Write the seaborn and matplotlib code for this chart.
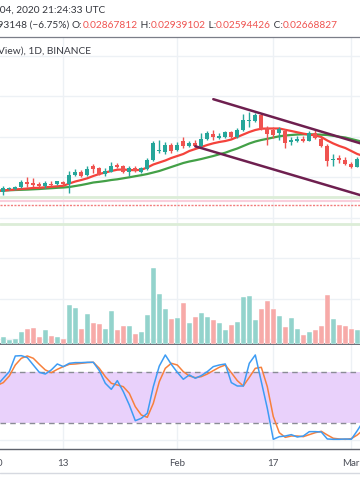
import numpy as np
import pandas as pd
import seaborn as sns
import matplotlib.pyplot as plt
import matplotlib.dates as mdates
from matplotlib.transforms import blended_transform_factory

# ETH/BTC daily candles (Binance)
candle_dates = pd.date_range('2020-01-03', '2020-03-02', freq='D')
opens = [0.0254, 0.02555, 0.02555, 0.02565, 0.0259, 0.02585, 0.0258, 0.0257, 0.025825, 0.0258,
         0.0259, 0.025825, 0.02625, 0.0264, 0.02625, 0.0267, 0.0266, 0.026325, 0.026425, 0.02675,
         0.0267, 0.026425, 0.026625, 0.026425, 0.02655, 0.027, 0.02745, 0.0274, 0.02775, 0.0275,
         0.02795, 0.027725, 0.027875, 0.0277, 0.028075, 0.0283, 0.028125, 0.028175, 0.0284, 0.02815,
         0.028525, 0.028975, 0.028975, 0.02925, 0.0286, 0.0285, 0.02835, 0.02845, 0.027925, 0.027975,
         0.028075, 0.027975, 0.028375, 0.028075, 0.027725, 0.027, 0.0271, 0.027, 0.026825, 0.026675]
highs = [0.0257, 0.02565, 0.0257, 0.026, 0.02615, 0.0261, 0.0259, 0.02595, 0.025975, 0.025975,
         0.02595, 0.02645, 0.02655, 0.0265, 0.0267, 0.0268, 0.02665, 0.0266, 0.026915, 0.02685,
         0.026775, 0.0267, 0.0267, 0.02665, 0.027125, 0.027975, 0.028, 0.027925, 0.02785, 0.0279,
         0.02815, 0.02795, 0.028, 0.028365, 0.02845, 0.0285, 0.02835, 0.02845, 0.02845, 0.0286,
         0.029325, 0.029425, 0.02935, 0.02935, 0.0287, 0.028665, 0.02865, 0.02855, 0.02815, 0.028225,
         0.0282, 0.02845, 0.0285, 0.02815, 0.0278, 0.0273, 0.02725, 0.02715, 0.0269, 0.02715]
lows = [0.02525, 0.0255, 0.025525, 0.0256, 0.02565, 0.02565, 0.02565, 0.0256, 0.0257, 0.025775,
        0.02575, 0.02535, 0.0262, 0.02615, 0.0262, 0.02635, 0.02625, 0.0262, 0.0264, 0.0266,
        0.02635, 0.026215, 0.0264, 0.02635, 0.0265, 0.02695, 0.02735, 0.0273, 0.02735, 0.02745,
        0.027625, 0.02765, 0.02765, 0.02765, 0.028, 0.028025, 0.02805, 0.0281, 0.0281, 0.0281,
        0.02845, 0.02865, 0.0289, 0.0285, 0.02775, 0.0281, 0.028, 0.0276, 0.02775, 0.0279,
        0.0279, 0.02795, 0.02805, 0.02765, 0.026725, 0.0267, 0.02685, 0.02675, 0.0266, 0.02665]
closes = [0.0256, 0.0256, 0.02565, 0.0259, 0.0258, 0.02575, 0.0257, 0.02585, 0.02575, 0.02595,
          0.0258, 0.02625, 0.026425, 0.0262, 0.026575, 0.02655, 0.026275, 0.026475, 0.0267, 0.026675,
          0.0264, 0.0266, 0.02645, 0.0266, 0.027, 0.027875, 0.0275, 0.027775, 0.02745, 0.027775,
          0.0277, 0.027875, 0.027725, 0.028075, 0.02835, 0.02815, 0.0282, 0.0284, 0.02815, 0.028525,
          0.029025, 0.029025, 0.02925, 0.028575, 0.028325, 0.02825, 0.02855, 0.02785, 0.028025, 0.028075,
          0.027975, 0.02835, 0.028125, 0.0277, 0.026975, 0.027075, 0.027, 0.0268, 0.026675, 0.027075]
volume_k = [7, 4.5, 5, 12, 15, 16, 7.3, 14, 8, 7,
            5, 39, 36, 15, 30, 21, 20, 15, 33, 14,
            18, 18, 10, 12, 29, 76, 50, 35, 25, 26,
            41, 21, 27, 31, 27, 24, 21, 14, 19, 22,
            47, 48, 24, 35, 43, 35, 28, 17, 26, 15,
            9, 12, 14, 18, 49, 25, 19, 18, 15, 14]

# indicator lines
line_dates = pd.date_range('2020-01-02', '2020-03-03', freq='D')
ema_fast = [0.025465, 0.025475, 0.0255, 0.025525, 0.02555, 0.025575, 0.0256, 0.02561, 0.025635, 0.02566,
            0.025685, 0.02571, 0.025825, 0.025925, 0.026, 0.026085, 0.0262, 0.0263, 0.026375, 0.02645,
            0.026515, 0.026525, 0.0265, 0.02649, 0.02651, 0.026625, 0.026775, 0.026875, 0.026975, 0.0271,
            0.0272, 0.0273, 0.02745, 0.02755, 0.02765, 0.02775, 0.027835, 0.0279, 0.02795, 0.028025,
            0.02815, 0.028275, 0.0284, 0.0285, 0.028565, 0.028575, 0.028575, 0.028575, 0.02851, 0.02845,
            0.028385, 0.02832, 0.02827, 0.028225, 0.02815, 0.027975, 0.027825, 0.0277, 0.0276, 0.02745,
            0.0273, 0.0272]
sma_slow = [0.02546, 0.02547, 0.025485, 0.0255, 0.02551, 0.02552, 0.025535, 0.02555, 0.02557, 0.02559,
            0.02561, 0.025625, 0.02565, 0.0257, 0.02575, 0.02581, 0.025875, 0.02591, 0.02595, 0.026,
            0.026035, 0.026085, 0.026135, 0.02619, 0.02624, 0.0263, 0.026375, 0.02645, 0.02655, 0.02665,
            0.02675, 0.02685, 0.026925, 0.026985, 0.02705, 0.027125, 0.0272, 0.027285, 0.027365, 0.027475,
            0.027575, 0.0277, 0.027825, 0.027925, 0.028, 0.02806, 0.028125, 0.028185, 0.028225, 0.02825,
            0.028275, 0.028285, 0.028285, 0.02828, 0.028265, 0.02825, 0.02821, 0.028165, 0.028125, 0.02805,
            0.027975, 0.0279]
stoch_k = [64.7, 72.6, 80.4, 98.8, 99.2, 96.9, 88.2, 79.6, 77.6, 82.4,
           89.4, 86.3, 90.2, 91.0, 91.0, 91.4, 91.4, 81.6, 66.7, 59.6,
           69.8, 56.9, 41.2, 22.7, 25.5, 31.4, 62.7, 87.0, 100.0, 89.0,
           79.6, 71.4, 76.5, 72.6, 75.7, 80.4, 86.3, 88.2, 89.4, 67.5,
           63.5, 63.5, 90.2, 100.0, 68.6, 37.3, 0.8, 3.9, 4.7, 6.3,
           3.5, 4.7, 9.8, 9.8, 9.4, 1.2, 0.8, 0.8, 1.2, 0.8,
           11.0, 22.0]
stoch_d = [64.3, 67.5, 75.3, 88.2, 96.1, 98.8, 96.1, 89.0, 82.4, 79.2,
           83.1, 86.3, 89.0, 89.4, 90.2, 91.0, 91.4, 84.3, 74.5, 66.7,
           64.7, 62.7, 54.9, 39.2, 29.4, 26.7, 43.1, 68.6, 84.3, 90.2,
           88.2, 80.4, 75.3, 73.3, 74.5, 77.6, 81.6, 85.5, 88.2, 79.2,
           69.8, 63.5, 73.7, 84.3, 85.5, 62.7, 27.5, 8.6, 3.1, 4.7,
           4.7, 3.9, 6.3, 8.6, 10.2, 5.9, 2.0, 1.2, 0.8, 1.6,
           5.9, 12.0]

# drawn levels and channel
green_levels = [0.025165, 0.023815]
pink_level = 0.024975
red_dotted_level = 0.024775
upper_trend_dates = ['2020-02-07', '2020-03-03']
upper_trend_prices = [0.03004, 0.02779]
lower_trend_dates = ['2020-02-04', '2020-03-03']
lower_trend_prices = [0.027685, 0.0252]

tick_dates = ['2020-01-01', '2020-01-13', '2020-02-01', '2020-02-17', '2020-03-01']
tick_labels = ['2020', '13', 'Feb', '17', 'Mar']

# header legend: OHLC of the last bar
ohlc_labels = ['O:', ' H:', ' L:', ' C:']
ohlc_values = ['0.02867812', '0.02939102', '0.02594426', '0.02668827']

UP, DOWN = '#26a69a', '#ef5350'
GRID = '#edf1f5'

sns.set_style('white')
plt.rcParams['font.family'] = ['Lato', 'DejaVu Sans']

W, H = 360.0, 504.0
def fy(px):
    return 1 - px / H

fig = plt.figure(figsize=(3.6, 5.04), dpi=100)
ax = fig.add_axes([0, fy(344), 1, (344 - 37) / H])
ax_vol = ax.twinx()
ax_st = fig.add_axes([0, fy(449), 1, (449 - 344) / H], sharex=ax)

ax.set_zorder(2)
ax.patch.set_visible(False)
ax_vol.set_zorder(1)

x = mdates.date2num(candle_dates)
xl = mdates.date2num(line_dates)
o = np.array(opens)
c = np.array(closes)
up = c >= o
col = np.where(up, UP, DOWN)

x0 = mdates.date2num(pd.Timestamp('2020-01-01') + pd.Timedelta(days=1.45))
ax.set_xlim(x0, x0 + 60)
ax.set_ylim(0.0178, 0.03315)

# grid under the volume bars
grid_prices = np.linspace(0.032225, 0.01805, 8)
tnum = mdates.date2num(pd.to_datetime(tick_dates))
gtrans = blended_transform_factory(ax_vol.transAxes, ax.transData)
for gp in grid_prices:
    ax_vol.plot([0, 1], [gp, gp], transform=gtrans, color=GRID, lw=1, zorder=0)
for t in tnum:
    ax_vol.axvline(t, color=GRID, lw=1, zorder=0)

# volume overlay
vol_col = np.where(up, '#93d3cc', '#f7aaa8')
ax_vol.bar(x, volume_k, width=0.86, color=vol_col, edgecolor='white', linewidth=0.3, zorder=2)
ax_vol.set_ylim(0, 307)
ax_vol.set_yticks([])
for s in ax_vol.spines.values():
    s.set_visible(False)

# horizontal levels
for lv in green_levels:
    ax.axhline(lv, color='#dcedd7', lw=2, zorder=1)
ax.axhline(pink_level, color='#f9cfdc', lw=1.5, zorder=1)
ax.axhline(red_dotted_level, color='#f27d7d', lw=1, ls=(0, (1.5, 1)), zorder=1)

# moving averages
sns.lineplot(x=xl, y=sma_slow, ax=ax, color='#43a047', lw=1.6, zorder=2)
sns.lineplot(x=xl, y=ema_fast, ax=ax, color='#f4433c', lw=1.6, zorder=2)

# candles
ax.vlines(x, lows, highs, colors=col, lw=1, zorder=3)
body = np.maximum(np.abs(c - o), 0.00004)
ax.bar(x, body, bottom=np.minimum(o, c), width=0.66, color=col, linewidth=0, zorder=4)

# channel lines
ax.plot(mdates.date2num(pd.to_datetime(upper_trend_dates)), upper_trend_prices,
        color='#6e1f4f', lw=1.8, solid_capstyle='round', zorder=5)
ax.plot(mdates.date2num(pd.to_datetime(lower_trend_dates)), lower_trend_prices,
        color='#6e1f4f', lw=1.8, solid_capstyle='round', zorder=5)

ax.set_yticks([])
ax.tick_params(axis='x', length=0, labelbottom=False)
ax.set_xlabel('')
for name, s in ax.spines.items():
    s.set_visible(name == 'top')
ax.spines['top'].set_color('#7b7e88')
ax.spines['top'].set_linewidth(0.9)

# stochastic RSI pane
ax_st.set_ylim(-10.6, 112.9)
for t in tnum:
    ax_st.axvline(t, color=GRID, lw=1, zorder=0)
for gv in [0, 40]:
    ax_st.axhline(gv, color=GRID, lw=1, zorder=0)
ax_st.axhspan(20, 80, color='#e9d1fb', lw=0, zorder=1)
ax_st.axhline(80, color='#8a8c95', lw=1, ls=(0, (4, 3)), zorder=2)
ax_st.axhline(20, color='#8a8c95', lw=1, ls=(0, (4, 3)), zorder=2)
sns.lineplot(x=xl, y=stoch_d, ax=ax_st, color='#f7803c', lw=1.1, zorder=3)
sns.lineplot(x=xl, y=stoch_k, ax=ax_st, color='#3d9cf4', lw=1.1, zorder=4)
ax_st.set_yticks([])
ax_st.set_xlabel('')
ax_st.set_ylabel('')
ax_st.set_xticks(tnum[1:])
ax_st.set_xticklabels([])
ax_st.tick_params(axis='x', direction='out', length=3, width=0.8, color='#787b86')
ax_st.spines['left'].set_visible(False)
ax_st.spines['right'].set_visible(False)
ax_st.spines['top'].set_color('#60636d')
ax_st.spines['top'].set_linewidth(1.3)
ax_st.spines['bottom'].set_color('#60636d')
ax_st.spines['bottom'].set_linewidth(1.0)
ax_st.set_xlim(x0, x0 + 60)

ttrans = blended_transform_factory(ax_st.transData, fig.transFigure)
for t, lab in zip(tnum, tick_labels):
    ax_st.text(t, fy(463), lab, transform=ttrans, ha='center', va='center',
               fontsize=7, color='#4a4d57', clip_on=False)

fig.add_artist(plt.Line2D([0, 1], [fy(472.5), fy(472.5)], transform=fig.transFigure,
                          color='#d6d9e0', lw=1))

# header texts
dark = '#34363d'
red = '#ef5350'
fs = 7.3
fig.text(105 / W, fy(10), 'Mar 04, 2020 21:24:33 UTC', ha='right', va='center', fontsize=fs, color=dark)
anchor = fig.text(72 / W, fy(25), '\u22120.00193148 (\u22126.75%) ', ha='right', va='center',
                  fontsize=fs, color=dark)
# chain the coloured segments one after another
for lab, val in zip(ohlc_labels, ohlc_values):
    anchor = fig.add_artist(plt.Annotation(lab, xy=(1, 0), xycoords=anchor, ha='left', va='bottom',
                                           fontsize=fs, color=dark))
    anchor = fig.add_artist(plt.Annotation(val, xy=(1, 0), xycoords=anchor, ha='left', va='bottom',
                                           fontsize=fs, color=red))
fig.text(91 / W, fy(51), 'Ethereum / Bitcoin (TradingView), 1D, BINANCE', ha='right', va='center',
         fontsize=fs, color='#3a3c44')

fig.savefig('out.png', dpi=100)
